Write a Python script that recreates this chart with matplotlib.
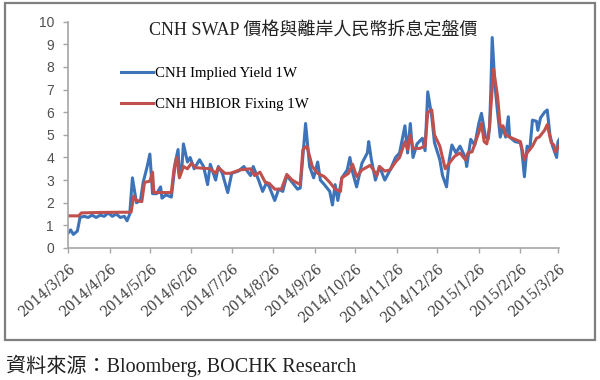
import pandas as pd
import matplotlib.pyplot as plt
from matplotlib.patches import Rectangle

# CNH Implied Yield 1W (blue)
implied_dates = [
    '2014-03-26', '2014-03-28', '2014-03-30', '2014-04-02', '2014-04-04', '2014-04-07',
    '2014-04-10', '2014-04-13', '2014-04-16', '2014-04-19', '2014-04-22', '2014-04-25',
    '2014-04-28', '2014-05-01', '2014-05-04', '2014-05-07', '2014-05-09', '2014-05-11',
    '2014-05-13', '2014-05-16', '2014-05-19', '2014-05-21', '2014-05-24', '2014-05-26',
    '2014-05-28', '2014-05-31', '2014-06-03', '2014-06-04', '2014-06-07', '2014-06-11',
    '2014-06-14', '2014-06-16', '2014-06-17', '2014-06-19', '2014-06-20', '2014-06-23',
    '2014-06-25', '2014-06-28', '2014-07-02', '2014-07-05', '2014-07-08', '2014-07-10',
    '2014-07-14', '2014-07-16', '2014-07-19', '2014-07-23', '2014-07-26', '2014-07-31',
    '2014-08-04', '2014-08-09', '2014-08-11', '2014-08-15', '2014-08-18', '2014-08-21',
    '2014-08-23', '2014-08-27', '2014-08-30', '2014-09-02', '2014-09-05', '2014-09-09',
    '2014-09-13', '2014-09-15', '2014-09-19', '2014-09-22', '2014-09-25', '2014-09-28',
    '2014-09-30', '2014-10-03', '2014-10-07', '2014-10-09', '2014-10-11', '2014-10-13',
    '2014-10-16', '2014-10-20', '2014-10-22', '2014-10-24', '2014-10-27', '2014-10-31',
    '2014-11-04', '2014-11-05', '2014-11-07', '2014-11-10', '2014-11-13', '2014-11-17',
    '2014-11-21', '2014-11-25', '2014-11-28', '2014-12-02', '2014-12-04', '2014-12-06',
    '2014-12-08', '2014-12-11', '2014-12-15', '2014-12-17', '2014-12-19', '2014-12-22',
    '2014-12-24', '2014-12-28', '2014-12-30', '2015-01-02', '2015-01-04', '2015-01-06',
    '2015-01-09', '2015-01-12', '2015-01-16', '2015-01-17', '2015-01-20', '2015-01-23',
    '2015-01-26', '2015-01-28', '2015-01-31', '2015-02-02', '2015-02-03', '2015-02-04',
    '2015-02-05', '2015-02-07', '2015-02-09', '2015-02-11', '2015-02-13', '2015-02-15',
    '2015-02-17', '2015-02-18', '2015-02-22', '2015-02-26', '2015-02-27', '2015-03-01',
    '2015-03-03', '2015-03-05', '2015-03-07', '2015-03-10', '2015-03-11', '2015-03-13',
    '2015-03-16', '2015-03-18', '2015-03-20', '2015-03-22', '2015-03-25', '2015-03-26',
    '2015-03-27',
]
implied_values = [
    0.65, 0.8, 0.6, 0.75, 1.35, 1.4,
    1.35, 1.45, 1.35, 1.45, 1.4, 1.55,
    1.4, 1.5, 1.35, 1.4, 1.2, 1.5,
    3.1, 2.0, 2.1, 2.9, 3.6, 4.15,
    2.4, 2.4, 2.7, 2.2, 2.35, 2.25,
    3.8, 4.35, 3.2, 3.7, 4.6, 3.8,
    4.0, 3.5, 3.9, 3.6, 2.8, 3.7,
    3.0, 3.6, 3.3, 2.45, 3.3, 3.4,
    3.6, 3.2, 3.6, 3.0, 2.5, 2.9,
    2.7, 2.1, 2.6, 2.5, 3.2, 2.9,
    2.6, 2.65, 5.5, 3.6, 3.1, 3.8,
    3.0, 2.8, 2.5, 1.9, 2.8, 2.1,
    3.1, 3.45, 4.0, 3.35, 2.7, 3.75,
    4.2, 4.7, 3.9, 3.0, 3.6, 3.0,
    3.45, 4.0, 4.2, 5.4, 4.2, 5.5,
    4.0, 4.6, 4.85, 4.3, 6.9, 5.8,
    4.65, 3.9, 3.2, 2.7, 3.9, 4.55,
    4.2, 4.5, 4.0, 3.6, 4.8, 4.55,
    5.5, 5.95, 4.9, 4.8, 5.3, 7.0,
    9.3, 7.2, 6.0, 4.9, 5.35, 4.9,
    5.8, 4.9, 4.7, 4.65, 4.35, 3.15,
    4.5, 4.35, 5.65, 5.6, 5.2, 5.75,
    6.0, 6.1, 5.0, 4.5, 4.0, 4.7,
    4.8,
]

# CNH HIBOR Fixing 1W (red)
hibor_dates = [
    '2014-03-26', '2014-04-03', '2014-04-05', '2014-04-19', '2014-05-04', '2014-05-12',
    '2014-05-14', '2014-05-16', '2014-05-20', '2014-05-22', '2014-05-26', '2014-05-28',
    '2014-05-29', '2014-06-11', '2014-06-13', '2014-06-15', '2014-06-17', '2014-06-20',
    '2014-06-23', '2014-06-26', '2014-06-29', '2014-07-10', '2014-07-14', '2014-07-16',
    '2014-07-21', '2014-07-25', '2014-08-01', '2014-08-09', '2014-08-12', '2014-08-16',
    '2014-08-20', '2014-08-23', '2014-08-27', '2014-09-01', '2014-09-05', '2014-09-09',
    '2014-09-15', '2014-09-17', '2014-09-20', '2014-09-24', '2014-09-28', '2014-10-03',
    '2014-10-07', '2014-10-11', '2014-10-15', '2014-10-16', '2014-10-21', '2014-10-24',
    '2014-10-27', '2014-10-31', '2014-11-06', '2014-11-08', '2014-11-11', '2014-11-13',
    '2014-11-17', '2014-11-21', '2014-11-25', '2014-11-28', '2014-12-02', '2014-12-04',
    '2014-12-06', '2014-12-08', '2014-12-13', '2014-12-17', '2014-12-19', '2014-12-22',
    '2014-12-24', '2014-12-28', '2015-01-01', '2015-01-04', '2015-01-08', '2015-01-12',
    '2015-01-16', '2015-01-18', '2015-01-21', '2015-01-26', '2015-01-28', '2015-01-30',
    '2015-02-01', '2015-02-03', '2015-02-06', '2015-02-09', '2015-02-11', '2015-02-13',
    '2015-02-15', '2015-02-18', '2015-02-22', '2015-02-26', '2015-03-01', '2015-03-03',
    '2015-03-07', '2015-03-10', '2015-03-12', '2015-03-16', '2015-03-18', '2015-03-21',
    '2015-03-23', '2015-03-24', '2015-03-27',
]
hibor_values = [
    1.42, 1.42, 1.55, 1.57, 1.58, 1.58,
    2.3, 2.1, 2.05, 2.9, 2.95, 3.35,
    2.45, 2.45, 3.5, 4.0, 3.1, 3.6,
    3.5, 3.75, 3.55, 3.5, 3.3, 3.55,
    3.3, 3.3, 3.45, 3.5, 3.2, 3.35,
    2.9, 2.85, 2.6, 2.6, 3.25, 3.0,
    2.8, 4.35, 4.5, 3.6, 3.3, 3.15,
    2.9, 2.6, 2.5, 3.1, 3.3, 3.7,
    3.15, 3.45, 3.65, 3.5, 3.2, 3.6,
    3.4, 3.45, 3.8, 4.0, 4.7, 4.35,
    5.0, 4.4, 4.4, 4.5, 6.0, 6.1,
    5.0, 4.5, 3.5, 3.75, 4.05, 4.2,
    3.9, 4.2, 4.25, 5.1, 5.5, 4.7,
    4.6, 5.35, 7.9, 6.7, 5.35, 5.4,
    5.0, 4.9, 4.8, 4.7, 3.9, 4.2,
    4.5, 4.85, 4.9, 5.2, 5.45, 4.65,
    4.55, 4.25, 4.5,
]

tick_labels = ['2014/3/26', '2014/4/26', '2014/5/26', '2014/6/26', '2014/7/26',
               '2014/8/26', '2014/9/26', '2014/10/26', '2014/11/26', '2014/12/26',
               '2015/1/26', '2015/2/26', '2015/3/26']

title = 'CNH SWAP 價格與離岸人民幣拆息定盤價'
source = '資料來源：Bloomberg, BOCHK Research'

implied = pd.Series(implied_values, index=pd.to_datetime(implied_dates))
hibor = pd.Series(hibor_values, index=pd.to_datetime(hibor_dates))
ticks = pd.to_datetime(tick_labels, format='%Y/%m/%d')

fig = plt.figure(figsize=(6, 3.8), dpi=100)
ax = fig.add_axes([0.1133, 0.3474, 0.8189, 0.5955])

ax.plot(implied.index, implied.values, color='#3d73b9', lw=2.2, label='CNH Implied Yield 1W')
ax.plot(hibor.index, hibor.values, color='#c0504d', lw=2.2, label='CNH HIBIOR Fixing 1W')

ax.set_xlim(pd.Timestamp('2014-03-26'), pd.Timestamp('2015-03-27'))
ax.set_ylim(0, 10)
ax.set_yticks(range(0, 11))
ax.set_xticks(ticks)
ax.set_xticklabels(tick_labels, rotation=42, ha='right', va='top', rotation_mode='anchor',
                   family='DejaVu Serif', fontsize=10, color='#404040')
for lbl in ax.get_yticklabels():
    lbl.set_family('Liberation Sans')
    lbl.set_fontsize(10)
    lbl.set_color('#505050')

for side in ['top', 'right']:
    ax.spines[side].set_visible(False)
for side in ['left', 'bottom']:
    ax.spines[side].set_color('#a6a6a6')
    ax.spines[side].set_linewidth(1.2)
ax.tick_params(axis='both', direction='out', length=3.6, width=1.0, color='#a6a6a6')
ax.tick_params(axis='y', pad=6.5)
ax.tick_params(axis='x', pad=6)

ax.legend(loc='upper left', bbox_to_anchor=(0.092, 0.835), frameon=False, borderpad=0,
          handlelength=2.15, handletextpad=0.15, labelspacing=1.2,
          prop={'family': 'Liberation Serif', 'size': 10.7})

fig.text(0.5225, 0.921, title, ha='center', va='center', fontsize=13,
         family=['Liberation Serif', 'Noto Sans CJK TC'], color='#222222')
fig.text(0.01, 0.037, source, ha='left', va='center', fontsize=14.5,
         family=['Liberation Serif', 'Noto Sans CJK TC'], color='#222222')

fig.patches.append(Rectangle((0.009, 0.105), 0.982, 0.886, transform=fig.transFigure,
                             fill=False, edgecolor='#7f7f7f', linewidth=1.6))

fig.savefig('out.png', dpi=100)
